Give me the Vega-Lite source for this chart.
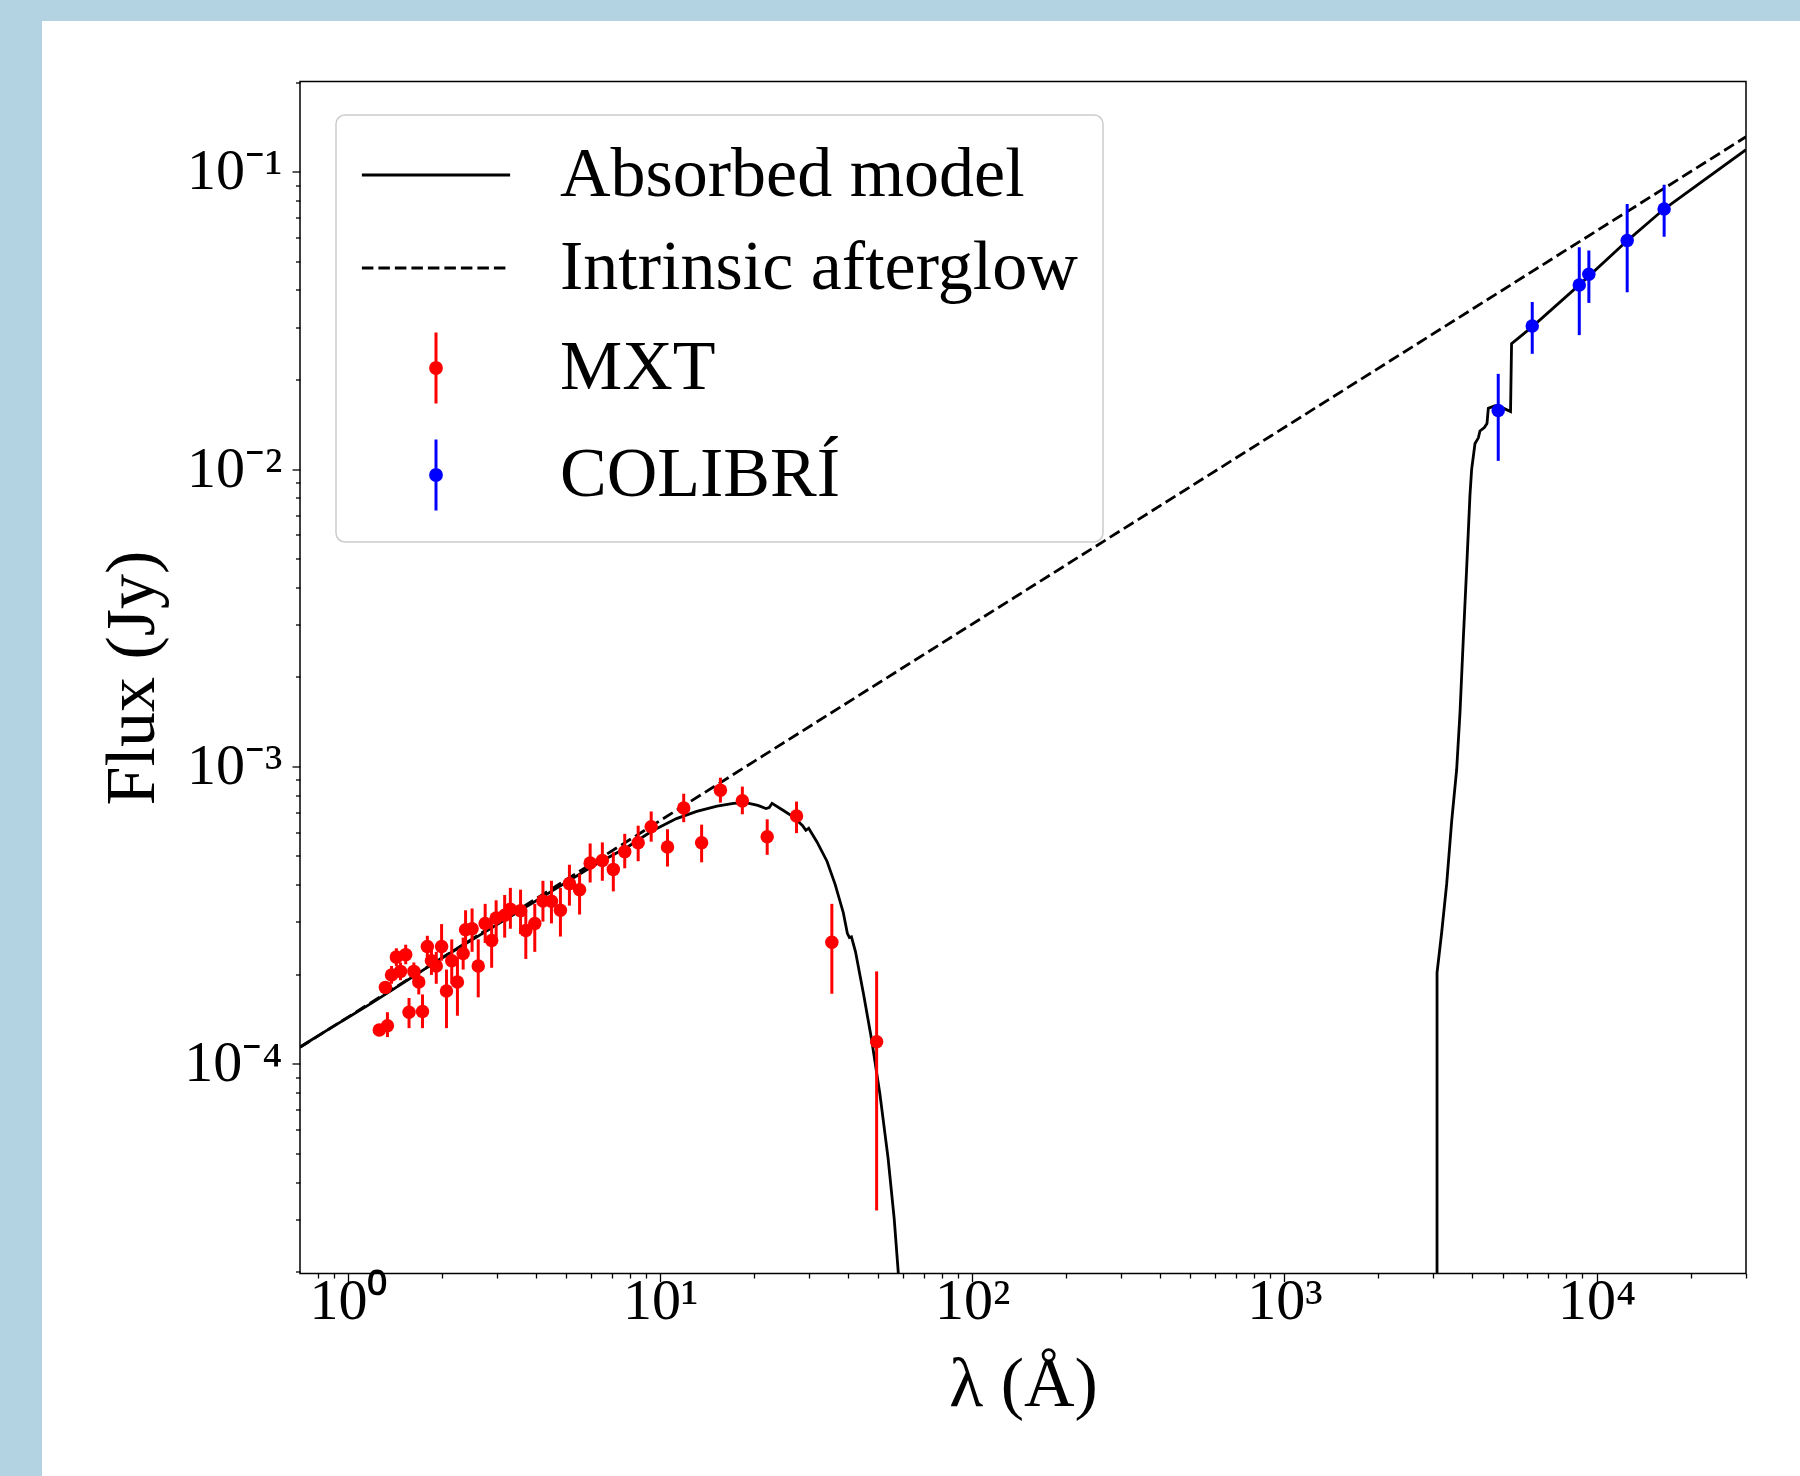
{
  "$schema": "https://vega.github.io/schema/vega-lite/v6.json",
  "background": "white",
  "padding": 0,
  "config": {"font": "Liberation Serif"},
  "datasets": {
    "model": [
      {"series": "Absorbed model", "wl": 0.702, "flux": 1.138e-4},
      {"series": "Absorbed model", "wl": 0.879, "flux": 1.317e-4},
      {"series": "Absorbed model", "wl": 1.187, "flux": 1.595e-4},
      {"series": "Absorbed model", "wl": 1.602, "flux": 1.951e-4},
      {"series": "Absorbed model", "wl": 1.977, "flux": 2.251e-4},
      {"series": "Absorbed model", "wl": 2.513, "flux": 2.619e-4},
      {"series": "Absorbed model", "wl": 3.394, "flux": 3.175e-4},
      {"series": "Absorbed model", "wl": 4.581, "flux": 3.849e-4},
      {"series": "Absorbed model", "wl": 6.185, "flux": 4.668e-4},
      {"series": "Absorbed model", "wl": 7.867, "flux": 5.355e-4},
      {"series": "Absorbed model", "wl": 9.417, "flux": 6.06e-4},
      {"series": "Absorbed model", "wl": 11.28, "flux": 6.675e-4},
      {"series": "Absorbed model", "wl": 13.1, "flux": 7.052e-4},
      {"series": "Absorbed model", "wl": 15.22, "flux": 7.349e-4},
      {"series": "Absorbed model", "wl": 17.17, "flux": 7.512e-4},
      {"series": "Absorbed model", "wl": 18.79, "flux": 7.553e-4},
      {"series": "Absorbed model", "wl": 20.56, "flux": 7.389e-4},
      {"series": "Absorbed model", "wl": 21.83, "flux": 7.208e-4},
      {"series": "Absorbed model", "wl": 22.36, "flux": 7.267e-4},
      {"series": "Absorbed model", "wl": 22.83, "flux": 7.512e-4},
      {"series": "Absorbed model", "wl": 24.61, "flux": 7.149e-4},
      {"series": "Absorbed model", "wl": 26.93, "flux": 6.729e-4},
      {"series": "Absorbed model", "wl": 28.6, "flux": 6.316e-4},
      {"series": "Absorbed model", "wl": 29.3, "flux": 6.093e-4},
      {"series": "Absorbed model", "wl": 29.92, "flux": 6.194e-4},
      {"series": "Absorbed model", "wl": 31.77, "flux": 5.58e-4},
      {"series": "Absorbed model", "wl": 34.24, "flux": 4.797e-4},
      {"series": "Absorbed model", "wl": 36.36, "flux": 4.011e-4},
      {"series": "Absorbed model", "wl": 38.62, "flux": 3.219e-4},
      {"series": "Absorbed model", "wl": 39.79, "flux": 2.745e-4},
      {"series": "Absorbed model", "wl": 40.4, "flux": 2.655e-4},
      {"series": "Absorbed model", "wl": 41.01, "flux": 2.67e-4},
      {"series": "Absorbed model", "wl": 42.26, "flux": 2.378e-4},
      {"series": "Absorbed model", "wl": 44.86, "flux": 1.71e-4},
      {"series": "Absorbed model", "wl": 47.64, "flux": 1.196e-4},
      {"series": "Absorbed model", "wl": 50.58, "flux": 7.915e-5},
      {"series": "Absorbed model", "wl": 53.72, "flux": 4.824e-5},
      {"series": "Absorbed model", "wl": 56.2, "flux": 3.021e-5},
      {"series": "Absorbed model", "wl": 57.9, "flux": 2.0e-5},
      {"series": "Absorbed model", "wl": 60.5, "flux": 1e-6},
      {"series": "Absorbed model", "wl": 65, "flux": 1e-9},
      {"series": "Absorbed model", "wl": 3080, "flux": 1e-9},
      {"series": "Absorbed model", "wl": 3082, "flux": 2.026e-4},
      {"series": "Absorbed model", "wl": 3189, "flux": 2.762e-4},
      {"series": "Absorbed model", "wl": 3309, "flux": 4.025e-4},
      {"series": "Absorbed model", "wl": 3434, "flux": 6.551e-4},
      {"series": "Absorbed model", "wl": 3562, "flux": 9.759e-4},
      {"series": "Absorbed model", "wl": 3651, "flux": 1.52e-3},
      {"series": "Absorbed model", "wl": 3742, "flux": 2.701e-3},
      {"series": "Absorbed model", "wl": 3833, "flux": 4.596e-3},
      {"series": "Absorbed model", "wl": 3929, "flux": 8.17e-3},
      {"series": "Absorbed model", "wl": 3978, "flux": 9.97e-3},
      {"series": "Absorbed model", "wl": 4078, "flux": 0.01218},
      {"series": "Absorbed model", "wl": 4180, "flux": 0.01273},
      {"series": "Absorbed model", "wl": 4230, "flux": 0.01342},
      {"series": "Absorbed model", "wl": 4369, "flux": 0.01378},
      {"series": "Absorbed model", "wl": 4455, "flux": 0.01421},
      {"series": "Absorbed model", "wl": 4499, "flux": 0.01602},
      {"series": "Absorbed model", "wl": 4726, "flux": 0.01631},
      {"series": "Absorbed model", "wl": 5024, "flux": 0.01602},
      {"series": "Absorbed model", "wl": 5300, "flux": 0.0156},
      {"series": "Absorbed model", "wl": 5340, "flux": 0.0264},
      {"series": "Absorbed model", "wl": 6202, "flux": 0.030},
      {"series": "Absorbed model", "wl": 8858, "flux": 0.04185},
      {"series": "Absorbed model", "wl": 12495, "flux": 0.05841},
      {"series": "Absorbed model", "wl": 16454, "flux": 0.07488},
      {"series": "Absorbed model", "wl": 30100, "flux": 0.1185}
    ],
    "intrinsic": [
      {"series": "Intrinsic afterglow", "wl": 0.702, "flux": 1.135e-4},
      {"series": "Intrinsic afterglow", "wl": 30100, "flux": 0.131}
    ],
    "obs": [
      {"series": "MXT", "wl": 1.260, "flux": 1.299e-4, "lo": 1.246e-4, "hi": 1.353e-4},
      {"series": "MXT", "wl": 1.338, "flux": 1.342e-4, "lo": 1.229e-4, "hi": 1.49e-4},
      {"series": "MXT", "wl": 1.318, "flux": 1.806e-4, "lo": 1.734e-4, "hi": 1.883e-4},
      {"series": "MXT", "wl": 1.379, "flux": 1.989e-4, "lo": 1.857e-4, "hi": 2.131e-4},
      {"series": "MXT", "wl": 1.429, "flux": 2.283e-4, "lo": 2.131e-4, "hi": 2.445e-4},
      {"series": "MXT", "wl": 1.473, "flux": 2.044e-4, "lo": 1.909e-4, "hi": 2.19e-4},
      {"series": "MXT", "wl": 1.531, "flux": 2.327e-4, "lo": 2.16e-4, "hi": 2.513e-4},
      {"series": "MXT", "wl": 1.569, "flux": 1.49e-4, "lo": 1.317e-4, "hi": 1.663e-4},
      {"series": "MXT", "wl": 1.626, "flux": 2.044e-4, "lo": 1.909e-4, "hi": 2.19e-4},
      {"series": "MXT", "wl": 1.686, "flux": 1.883e-4, "lo": 1.71e-4, "hi": 2.017e-4},
      {"series": "MXT", "wl": 1.733, "flux": 1.498e-4, "lo": 1.317e-4, "hi": 1.71e-4},
      {"series": "MXT", "wl": 1.796, "flux": 2.478e-4, "lo": 2.283e-4, "hi": 2.693e-4},
      {"series": "MXT", "wl": 1.851, "flux": 2.22e-4, "lo": 1.989e-4, "hi": 2.445e-4},
      {"series": "MXT", "wl": 1.918, "flux": 2.131e-4, "lo": 1.857e-4, "hi": 2.378e-4},
      {"series": "MXT", "wl": 1.995, "flux": 2.478e-4, "lo": 2.22e-4, "hi": 2.948e-4},
      {"series": "MXT", "wl": 2.068, "flux": 1.757e-4, "lo": 1.317e-4, "hi": 2.073e-4},
      {"series": "MXT", "wl": 2.15, "flux": 2.22e-4, "lo": 1.857e-4, "hi": 2.619e-4},
      {"series": "MXT", "wl": 2.242, "flux": 1.883e-4, "lo": 1.45e-4, "hi": 2.283e-4},
      {"series": "MXT", "wl": 2.339, "flux": 2.346e-4, "lo": 2.073e-4, "hi": 2.655e-4},
      {"series": "MXT", "wl": 2.381, "flux": 2.82e-4, "lo": 2.445e-4, "hi": 3.281e-4},
      {"series": "MXT", "wl": 2.498, "flux": 2.844e-4, "lo": 2.378e-4, "hi": 3.327e-4},
      {"series": "MXT", "wl": 2.614, "flux": 2.131e-4, "lo": 1.672e-4, "hi": 2.619e-4},
      {"series": "MXT", "wl": 2.751, "flux": 2.964e-4, "lo": 2.548e-4, "hi": 3.448e-4},
      {"series": "MXT", "wl": 2.886, "flux": 2.597e-4, "lo": 2.102e-4, "hi": 3.005e-4},
      {"series": "MXT", "wl": 2.983, "flux": 3.089e-4, "lo": 2.655e-4, "hi": 3.545e-4},
      {"series": "MXT", "wl": 3.177, "flux": 3.158e-4, "lo": 2.655e-4, "hi": 3.694e-4},
      {"series": "MXT", "wl": 3.313, "flux": 3.309e-4, "lo": 2.844e-4, "hi": 3.903e-4},
      {"series": "MXT", "wl": 3.572, "flux": 3.272e-4, "lo": 2.729e-4, "hi": 3.849e-4},
      {"series": "MXT", "wl": 3.713, "flux": 2.805e-4, "lo": 2.251e-4, "hi": 3.309e-4},
      {"series": "MXT", "wl": 3.967, "flux": 2.964e-4, "lo": 2.378e-4, "hi": 3.448e-4},
      {"series": "MXT", "wl": 4.213, "flux": 3.525e-4, "lo": 3.005e-4, "hi": 4.123e-4},
      {"series": "MXT", "wl": 4.486, "flux": 3.516e-4, "lo": 2.964e-4, "hi": 4.123e-4},
      {"series": "MXT", "wl": 4.793, "flux": 3.281e-4, "lo": 2.677e-4, "hi": 3.903e-4},
      {"series": "MXT", "wl": 5.122, "flux": 4.033e-4, "lo": 3.401e-4, "hi": 4.668e-4},
      {"series": "MXT", "wl": 5.52, "flux": 3.849e-4, "lo": 3.175e-4, "hi": 4.357e-4},
      {"series": "MXT", "wl": 5.968, "flux": 4.732e-4, "lo": 4.067e-4, "hi": 5.504e-4},
      {"series": "MXT", "wl": 6.53, "flux": 4.825e-4, "lo": 4.123e-4, "hi": 5.55e-4},
      {"series": "MXT", "wl": 7.08, "flux": 4.503e-4, "lo": 3.797e-4, "hi": 5.139e-4},
      {"series": "MXT", "wl": 7.703, "flux": 5.167e-4, "lo": 4.541e-4, "hi": 5.929e-4},
      {"series": "MXT", "wl": 8.505, "flux": 5.534e-4, "lo": 4.797e-4, "hi": 6.316e-4},
      {"series": "MXT", "wl": 9.362, "flux": 6.263e-4, "lo": 5.58e-4, "hi": 7.052e-4},
      {"series": "MXT", "wl": 10.56, "flux": 5.355e-4, "lo": 4.604e-4, "hi": 6.145e-4},
      {"series": "MXT", "wl": 11.9, "flux": 7.246e-4, "lo": 6.49e-4, "hi": 8.091e-4},
      {"series": "MXT", "wl": 13.58, "flux": 5.534e-4, "lo": 4.757e-4, "hi": 6.368e-4},
      {"series": "MXT", "wl": 15.6, "flux": 8.318e-4, "lo": 7.551e-4, "hi": 9.158e-4},
      {"series": "MXT", "wl": 18.34, "flux": 7.655e-4, "lo": 6.9e-4, "hi": 8.55e-4},
      {"series": "MXT", "wl": 22.03, "flux": 5.8e-4, "lo": 5.04e-4, "hi": 6.637e-4},
      {"series": "MXT", "wl": 27.35, "flux": 6.803e-4, "lo": 5.963e-4, "hi": 7.613e-4},
      {"series": "MXT", "wl": 35.49, "flux": 2.562e-4, "lo": 1.719e-4, "hi": 3.448e-4},
      {"series": "MXT", "wl": 49.38, "flux": 1.186e-4, "lo": 3.21e-5, "hi": 2.044e-4},
      {"series": "COLIBRÍ", "wl": 4840, "flux": 0.01574, "lo": 0.01065, "hi": 0.02089},
      {"series": "COLIBRÍ", "wl": 6220, "flux": 0.03025, "lo": 0.02440, "hi": 0.03645},
      {"series": "COLIBRÍ", "wl": 8800, "flux": 0.04160, "lo": 0.02820, "hi": 0.05570},
      {"series": "COLIBRÍ", "wl": 9445, "flux": 0.04520, "lo": 0.03620, "hi": 0.05430},
      {"series": "COLIBRÍ", "wl": 12530, "flux": 0.05870, "lo": 0.03930, "hi": 0.07790},
      {"series": "COLIBRÍ", "wl": 16457, "flux": 0.07488, "lo": 0.06040, "hi": 0.09040}
    ]
  },
  "columns": 2,
  "align": "each",
  "spacing": 0,
  "concat": [
    {
      "width": 42,
      "height": 1476,
      "data": {"values": []},
      "mark": "rect",
      "view": {"fill": "#b3d3e2", "stroke": null}
    },
    {
      "columns": 2,
      "align": "each",
      "bounds": "flush",
      "spacing": {"row": 60.5, "column": 0},
      "concat": [
        {
          "width": 258,
          "height": 21,
          "data": {"values": []},
          "mark": "rect",
          "view": {"fill": "#b3d3e2", "stroke": null}
        },
        {
          "width": 1500,
          "height": 21,
          "data": {"values": []},
          "mark": "rect",
          "view": {"fill": "#b3d3e2", "stroke": null}
        },
        {
          "width": 1,
          "height": 1,
          "data": {"values": []},
          "mark": "rect",
          "view": {"fill": null, "stroke": null}
        },
        {
          "width": 1446,
          "height": 1192,
          "view": {"stroke": "black", "strokeWidth": 1.5, "fill": null},
          "layer": [
            {
              "data": {"name": "model"},
              "mark": {"type": "line", "strokeWidth": 2.8, "clip": true},
              "encoding": {
                "x": {
                  "field": "wl", "type": "quantitative", "title": "λ (Å)",
                  "scale": {"type": "log", "domain": [0.702, 30100], "nice": false},
                  "axis": {
                    "values": [0.8, 0.9, 1, 2, 3, 4, 5, 6, 7, 8, 9, 10, 20, 30, 40, 50, 60, 70, 80, 90, 100, 200, 300, 400, 500, 600, 700, 800, 900, 1000, 2000, 3000, 4000, 5000, 6000, 7000, 8000, 9000, 10000, 20000, 30000],
                    "labelExpr": "datum.value === 1 ? '10⁰' : datum.value === 10 ? '10¹' : datum.value === 100 ? '10²' : datum.value === 1000 ? '10³' : datum.value === 10000 ? '10⁴' : ''",
                    "tickSize": {"condition": {"test": "datum.value === 1 || datum.value === 10 || datum.value === 100 || datum.value === 1000 || datum.value === 10000", "value": 8}, "value": 4.5},
                    "tickColor": "black", "tickWidth": 1.3,
                    "domain": false, "grid": false,
                    "labelFont": "Liberation Serif", "labelFontSize": 58, "labelColor": "black",
                    "labelPadding": -9, "labelOverlap": false, "labelFlush": false, "labelBaseline": "top",
                    "titleFont": "Liberation Serif", "titleFontSize": 70, "titleColor": "black", "titleFontWeight": "normal",
                    "titlePadding": 20
                  }
                },
                "y": {
                  "field": "flux", "type": "quantitative", "title": "Flux (Jy)",
                  "scale": {"type": "log", "domain": [1.97e-5, 0.201], "nice": false},
                  "axis": {
                    "values": [0.00002, 0.00003, 0.00004, 0.00005, 0.00006, 0.00007, 0.00008, 0.00009, 0.0001, 0.0002, 0.0003, 0.0004, 0.0005, 0.0006, 0.0007, 0.0008, 0.0009, 0.001, 0.002, 0.003, 0.004, 0.005, 0.006, 0.007, 0.008, 0.009, 0.01, 0.02, 0.03, 0.04, 0.05, 0.06, 0.07, 0.08, 0.09, 0.1, 0.2],
                    "labelExpr": "datum.value === 0.0001 ? '10⁻⁴' : datum.value === 0.001 ? '10⁻³' : datum.value === 0.01 ? '10⁻²' : datum.value === 0.1 ? '10⁻¹' : ''",
                    "tickSize": {"condition": {"test": "datum.value === 0.0001 || datum.value === 0.001 || datum.value === 0.01 || datum.value === 0.1", "value": 8}, "value": 4.5},
                    "tickColor": "black", "tickWidth": 1.3,
                    "domain": false, "grid": false,
                    "labelFont": "Liberation Serif", "labelFontSize": 58, "labelColor": "black",
                    "labelPadding": 10, "labelOverlap": false, "labelFlush": false,
                    "titleFont": "Liberation Serif", "titleFontSize": 70, "titleColor": "black", "titleFontWeight": "normal",
                    "titlePadding": 15
                  }
                },
                "color": {
                  "field": "series", "type": "nominal",
                  "scale": {"domain": ["Absorbed model", "Intrinsic afterglow", "MXT", "COLIBRÍ"], "range": ["#000000", "#000000", "#ff0000", "#0000ff"]},
                  "legend": {
                    "orient": "none", "legendX": 336, "legendY": 115,
                    "title": null,
                    "padding": 25,
                    "fillColor": "rgba(255,255,255,0.8)",
                    "strokeColor": "#cccccc",
                    "cornerRadius": 9,
                    "labelFont": "Liberation Serif", "labelFontSize": 70, "labelColor": "black", "labelLimit": 1000,
                    "symbolSize": 3600, "symbolStrokeWidth": 3,
                    "symbolOffset": 40, "labelOffset": 89,
                    "rowPadding": 23,
                    "encode": {
                      "legend": {"update": {"strokeWidth": {"value": 1.5}}},
                      "symbols": {
                        "update": {
                          "shape": {"signal": "datum.value === 'MXT' || datum.value === 'COLIBRÍ' ? 'M0,-1.18V1.18M0.18,0A0.18,0.18,0,1,1,-0.18,0A0.18,0.18,0,1,1,0.18,0Z' : 'M-2.47,0H2.47'"},
                          "fill": {"signal": "datum.value === 'MXT' ? '#ff0000' : datum.value === 'COLIBRÍ' ? '#0000ff' : 'transparent'"},
                          "stroke": {"signal": "datum.value === 'MXT' ? '#ff0000' : datum.value === 'COLIBRÍ' ? '#0000ff' : '#000000'"},
                          "strokeDash": {"signal": "datum.value === 'Intrinsic afterglow' ? [11.5, 5] : null"},
                          "strokeWidth": {"value": 3},
                          "size": {"value": 3600},
                          "opacity": {"value": 1}
                        }
                      }
                    }
                  }
                }
              }
            },
            {
              "data": {"name": "intrinsic"},
              "mark": {"type": "line", "strokeWidth": 2.8, "strokeDash": [11.5, 5], "clip": true},
              "encoding": {
                "x": {"field": "wl", "type": "quantitative", "title": "λ (Å)"},
                "y": {"field": "flux", "type": "quantitative", "title": "Flux (Jy)"},
                "color": {"field": "series", "type": "nominal"}
              }
            },
            {
              "data": {"name": "obs"},
              "mark": {"type": "rule", "strokeWidth": 3, "clip": true},
              "encoding": {
                "x": {"field": "wl", "type": "quantitative", "title": "λ (Å)"},
                "y": {"field": "lo", "type": "quantitative", "title": "Flux (Jy)"},
                "y2": {"field": "hi"},
                "color": {"field": "series", "type": "nominal"}
              }
            },
            {
              "data": {"name": "obs"},
              "mark": {"type": "circle", "size": 182, "opacity": 1, "clip": true},
              "encoding": {
                "x": {"field": "wl", "type": "quantitative", "title": "λ (Å)"},
                "y": {"field": "flux", "type": "quantitative", "title": "Flux (Jy)"},
                "color": {"field": "series", "type": "nominal"}
              }
            }
          ]
        }
      ]
    }
  ]
}
